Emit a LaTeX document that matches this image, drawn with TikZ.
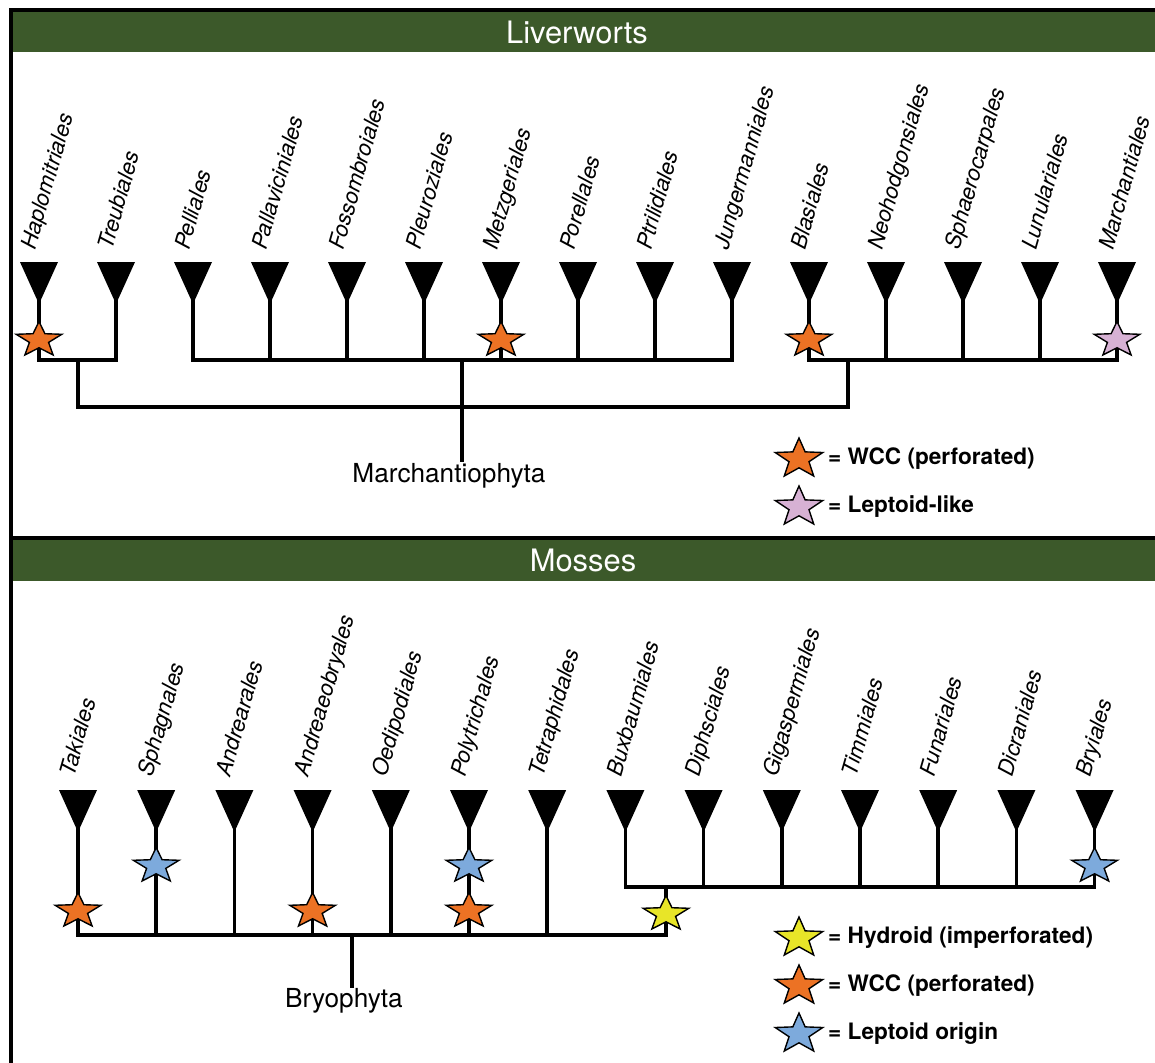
\documentclass[tikz,border=0pt]{standalone}
\usepackage{fontspec}
\setmainfont{TeX Gyre Heros}
\definecolor{hdrgreen}{RGB}{60,89,42}
\definecolor{wccorange}{RGB}{236,114,36}
\definecolor{leppink}{RGB}{215,177,212}
\definecolor{lepblue}{RGB}{125,170,220}
\definecolor{hydyellow}{RGB}{232,229,40}
\begin{document}
\begin{tikzpicture}[x=1bp,y=-1bp,
  branch/.style={line width=3.5bp, line join=miter},
  frameline/.style={line width=4bp, line join=miter},
  taxon/.style={font=\fontsize{22.2}{25}\selectfont\itshape, rotate=74, anchor=base west, inner sep=0pt},
  header/.style={font=\fontsize{31}{35}\selectfont, text=white, anchor=base, inner sep=0pt},
  cladename/.style={font=\fontsize{26.3}{29}\selectfont, anchor=base, inner sep=0pt},
  legendtext/.style={font=\fontsize{22.7}{25}\selectfont\bfseries, anchor=base west, inner sep=0pt},
  pics/wstar/.style n args={3}{code={
    \draw[fill=#1, line width=1.4bp, line join=miter, xscale=#2, yscale=#3]
      (-90:1) -- (-54:0.42) -- (-18:1) -- (18:0.42) -- (54:1) -- (90:0.42)
      -- (126:1) -- (162:0.42) -- (198:1) -- (234:0.42) -- cycle;
  }}
]
\useasboundingbox (0,0) rectangle (1155,1063);

% header bars and frame
\fill[hdrgreen] (11,10) rectangle (1155,52);
\fill[hdrgreen] (11,538) rectangle (1155,581);
\draw[frameline] (11,1070) -- (11,10) -- (1160,10);
\draw[frameline] (11,538) -- (1160,538);
\node[header] (hLiv) at (577,43) {Liverworts};
\node[header] (hMos) at (583,571) {Mosses};

% ---------- Liverworts ----------
\foreach \n [count=\i] in {Haplomitriales,Treubiales,Pelliales,Pallaviciniales,Fossombroiales,Pleuroziales,Metzgeriales,Porellales,Ptrilidiales,Jungermanniales,Blasiales,Neohodgonsiales,Sphaerocarpales,Lunulariales,Marchantiales}{
  \pgfmathsetmacro\cx{39+77*(\i-1)}
  \coordinate (L\i) at (\cx,299);
  \fill (\cx-19,262) -- (\cx+19,262) -- (\cx,304) -- cycle;
  \node[taxon] (Ln\i) at (\cx-4,251) {\n};
}
\coordinate (hA) at (78,360);
\coordinate (hB) at (462,360);
\coordinate (hC) at (848,360);
\coordinate (rL) at (462,407);
\coordinate (rLend) at (462,462);
\draw[branch] (L1) |- (hA) -| (L2);
\draw[branch] (L3) |- (hB) -| (L10);
\foreach \i in {4,...,9} \draw[branch] (L\i) -- (L\i |- hB);
\draw[branch] (L11) |- (hC) -| (L15);
\foreach \i in {12,13,14} \draw[branch] (L\i) -- (L\i |- hC);
\draw[branch] (hA) |- (rL) -| (hC);
\draw[branch] (hB) -- (rLend);
\node[cladename] (march) at (449,482) {Marchantiophyta};

\pic at (39,340) {wstar={wccorange}{24}{18.5}};
\pic at (501,340) {wstar={wccorange}{24}{18.5}};
\pic at (809,340) {wstar={wccorange}{24}{18.5}};
\pic at (1117,340) {wstar={leppink}{24}{18.5}};

\pic at (799,459) {wstar={wccorange}{25}{21}};
\node[legendtext] (legL1) at (828,464) {= WCC (perforated)};
\pic at (799,507) {wstar={leppink}{25}{21}};
\node[legendtext] (legL2) at (828,512) {= Leptoid-like};

% ---------- Mosses ----------
\foreach \n [count=\i] in {Takiales,Sphagnales,Andrearales,Andreaeobryales,Oedipodiales,Polytrichales,Tetraphidales,Buxbaumiales,Diphsciales,Gigaspermiales,Timmiales,Funariales,Dicraniales,Bryiales}{
  \pgfmathsetmacro\cx{78+78.2*(\i-1)}
  \coordinate (M\i) at (\cx,827);
  \fill (\cx-19,790) -- (\cx+19,790) -- (\cx,832) -- cycle;
  \node[taxon] (Mn\i) at (\cx-4,778) {\n};
}
\coordinate (hM1) at (352,935);
\coordinate (hM2) at (666,887);
\coordinate (rM) at (352,988);
\draw[branch] (M8) |- (hM2) -| (M14);
\foreach \i in {9,...,13} \draw[branch] (M\i) -- (M\i |- hM2);
\draw[branch] (M1) |- (hM1) -| (hM2);
\foreach \i in {2,...,7} \draw[branch] (M\i) -- (M\i |- hM1);
\draw[branch] (hM1) -- (rM);
\node[cladename] (bryo) at (344,1007) {Bryophyta};

\pic at (78,911) {wstar={wccorange}{24}{18.5}};
\pic at (312.6,911) {wstar={wccorange}{24}{18.5}};
\pic at (469,911) {wstar={wccorange}{24}{18.5}};
\pic at (156.2,866) {wstar={lepblue}{24}{18.5}};
\pic at (469,866) {wstar={lepblue}{24}{18.5}};
\pic at (1094.6,866) {wstar={lepblue}{24}{18.5}};
\pic at (666,914) {wstar={hydyellow}{24}{18.5}};

\pic at (799,938) {wstar={hydyellow}{25}{21}};
\node[legendtext] (legM1) at (828,943) {= Hydroid (imperforated)};
\pic at (799,986) {wstar={wccorange}{25}{21}};
\node[legendtext] (legM2) at (828,991) {= WCC (perforated)};
\pic at (799,1034) {wstar={lepblue}{25}{21}};
\node[legendtext] (legM3) at (828,1039) {= Leptoid origin};
\end{tikzpicture}
\end{document}
